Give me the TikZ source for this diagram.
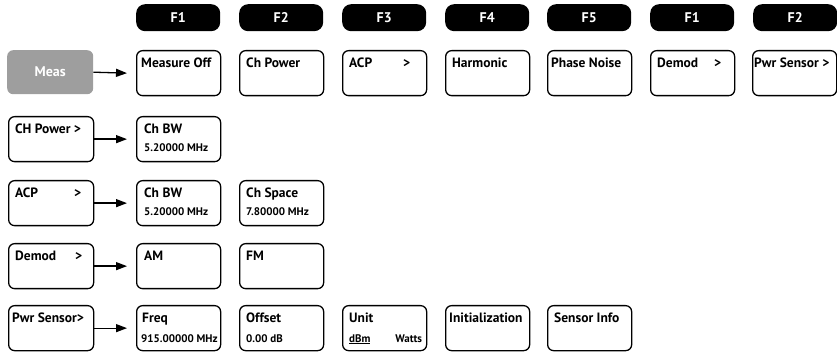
\documentclass[tikz,border=0pt]{standalone}
\usepackage{fontspec}
\setmainfont{PT Sans}
\usetikzlibrary{arrows.meta}
\begin{document}
\begin{tikzpicture}[x=1pt,y=-1pt,
  pill/.style={fill=black, rounded corners=9pt, minimum width=84pt, minimum height=27pt, inner sep=0pt, anchor=north west, text=white, font=\bfseries\fontsize{14}{15}\selectfont},
  key/.style={draw=black, line width=1.3pt, rounded corners=6pt, minimum width=84pt, minimum height=45pt, inner sep=0pt, anchor=north west},
  lkey/.style={key, minimum width=85pt},
  meas/.style={fill=black!38, rounded corners=6pt, minimum width=86pt, minimum height=44pt, inner sep=0pt, anchor=north west, text=white, font=\bfseries\fontsize{14}{15}\selectfont},
  lab/.style={anchor=base west, inner sep=0pt, font=\bfseries\fontsize{13.5}{14}\selectfont},
  sub/.style={anchor=base west, inner sep=0pt, font=\bfseries\fontsize{11}{12}\selectfont},
  subr/.style={sub, anchor=base east},
  arr/.style={line width=1.3pt, -{Triangle[length=11pt,width=8pt]}}
]
\useasboundingbox (0,0) rectangle (837,352);
% header pills
\node[pill] (h1) at (136,4) {F1};
\node[pill] (h2) at (239,4) {F2};
\node[pill] (h3) at (342,4) {F3};
\node[pill] (h4) at (445,4) {F4};
\node[pill] (h5) at (547,4) {F5};
\node[pill] (h6) at (650,4) {F1};
\node[pill] (h7) at (753,4) {F2};
% row 1
\node[meas] (meas) at (7,50) {Meas};
\node[key] (r1c1) at (136,50) {};
\node[key] (r1c2) at (239,50) {};
\node[key] (r1c3) at (342,50) {};
\node[key] (r1c4) at (445,50) {};
\node[key] (r1c5) at (547,50) {};
\node[key] (r1c6) at (650,50) {};
\node[key] (r1c7) at (752,50) {};
\node[lab] (t11) at ([shift={(5,18)}]r1c1.north west) {Measure Off};
\node[lab] (t12) at ([shift={(7,18)}]r1c2.north west) {Ch Power};
\node[lab] (t13) at ([shift={(7,18)}]r1c3.north west) {ACP};
\node[lab] (g13) at ([shift={(61,18)}]r1c3.north west) {>};
\node[lab] (t14) at ([shift={(7,18)}]r1c4.north west) {Harmonic};
\node[lab] (t15) at ([shift={(4,18)}]r1c5.north west) {Phase Noise};
\node[lab] (t16) at ([shift={(7,18)}]r1c6.north west) {Demod};
\node[lab] (g16) at ([shift={(64,18)}]r1c6.north west) {>};
\node[lab] (t17) at ([shift={(2,18)}]r1c7.north west) {Pwr Sensor >};
\draw[arr] (meas.east) -- ([xshift=-9pt]r1c1.west);
% row 2
\node[lkey] (l2) at (8,116) {};
\node[key] (r2c1) at (136,116) {};
\node[lab] (t20) at ([shift={(7,18)}]l2.north west) {CH Power >};
\node[lab] (t21) at ([shift={(8,18)}]r2c1.north west) {Ch BW};
\node[sub] (s21) at ([shift={(8,36)}]r2c1.north west) {5.20000 MHz};
\draw[arr] (l2.east) -- ([xshift=-9pt]r2c1.west);
% row 3
\node[lkey] (l3) at (8,180) {};
\node[key] (r3c1) at (136,180) {};
\node[key] (r3c2) at (239,180) {};
\node[lab] (t30) at ([shift={(7,18)}]l3.north west) {ACP};
\node[lab] (g30) at ([shift={(66,18)}]l3.north west) {>};
\node[lab] (t31) at ([shift={(8,18)}]r3c1.north west) {Ch BW};
\node[sub] (s31) at ([shift={(8,36)}]r3c1.north west) {5.20000 MHz};
\node[lab] (t32) at ([shift={(7,18)}]r3c2.north west) {Ch Space};
\node[sub] (s32) at ([shift={(7,36)}]r3c2.north west) {7.80000 MHz};
\draw[arr] (l3.east) -- ([xshift=-9pt]r3c1.west);
% row 4
\node[lkey] (l4) at (8,243) {};
\node[key] (r4c1) at (136,243) {};
\node[key] (r4c2) at (239,243) {};
\node[lab] (t40) at ([shift={(7,18)}]l4.north west) {Demod};
\node[lab] (g40) at ([shift={(67,18)}]l4.north west) {>};
\node[lab] (t41) at ([shift={(8,18)}]r4c1.north west) {AM};
\node[lab] (t42) at ([shift={(7,18)}]r4c2.north west) {FM};
\draw[arr] (l4.east) -- ([xshift=-9pt]r4c1.west);
% row 5
\node[lkey] (l5) at (8,305) {};
\node[key] (r5c1) at (136,305) {};
\node[key] (r5c2) at (239,305) {};
\node[key] (r5c3) at (342,305) {};
\node[key] (r5c4) at (445,305) {};
\node[key] (r5c5) at (547,305) {};
\node[lab] (t50) at ([shift={(4,18)}]l5.north west) {Pwr Sensor>};
\node[lab] (t51) at ([shift={(6,18)}]r5c1.north west) {Freq};
\node[sub] (s51) at ([shift={(5,37)}]r5c1.north west) {915.00000 MHz};
\node[lab] (t52) at ([shift={(7,18)}]r5c2.north west) {Offset};
\node[sub] (s52) at ([shift={(7,37)}]r5c2.north west) {0.00 dB};
\node[lab] (t53) at ([shift={(7,18)}]r5c3.north west) {Unit};
\node[sub] (s53) at ([shift={(7,37)}]r5c3.north west) {\underline{dBm}};
\node[subr] (w53) at ([shift={(-5,37)}]r5c3.north east) {Watts};
\node[lab] (t54) at ([shift={(4,18)}]r5c4.north west) {Initialization};
\node[lab] (t55) at ([shift={(7,18)}]r5c5.north west) {Sensor Info};
\draw[arr] (l5.east) -- ([xshift=-9pt]r5c1.west);
\end{tikzpicture}
\end{document}
